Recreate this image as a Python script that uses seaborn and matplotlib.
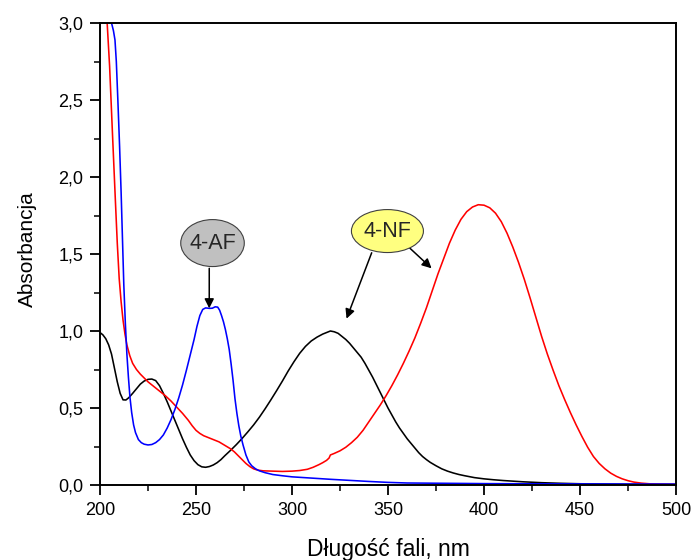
import numpy as np
import pandas as pd
import matplotlib
matplotlib.use("Agg")
import matplotlib.pyplot as plt
from matplotlib.patches import Ellipse
from matplotlib.ticker import MultipleLocator, FixedLocator
import seaborn as sns

# Absorption spectra (wavelength in nm, absorbance)
nf_acid_wl = [200, 201.5, 203, 204.5, 206, 207.5, 209, 210.5, 212, 213.5, 215, 217, 219,
              221, 223, 225, 227, 229, 231, 233, 235, 237, 239, 241, 243, 245, 247, 249,
              251, 253, 255, 257, 259, 261, 263, 265, 268, 271, 274, 277, 280, 283, 286,
              289, 292, 295, 298, 301, 304, 307, 310, 313, 316, 318, 320, 322, 324, 326,
              328, 330, 332, 334, 336, 338, 340, 342, 344, 346, 348, 350, 352, 354, 356,
              358, 360, 362, 364, 366, 368, 370, 372, 375, 378, 381, 384, 387, 390, 395,
              400, 405, 410, 420, 430, 440, 450, 470, 500]
nf_acid_abs = [0.99, 0.975, 0.95, 0.91, 0.85, 0.76, 0.67, 0.595, 0.553, 0.552, 0.567,
               0.595, 0.625, 0.655, 0.675, 0.686, 0.688, 0.678, 0.645, 0.595, 0.54, 0.48,
               0.42, 0.36, 0.30, 0.245, 0.195, 0.158, 0.132, 0.118, 0.115, 0.12, 0.13,
               0.145, 0.165, 0.19, 0.225, 0.262, 0.302, 0.345, 0.39, 0.44, 0.495, 0.553,
               0.613, 0.675, 0.74, 0.80, 0.855, 0.90, 0.935, 0.96, 0.98, 0.99, 1.0, 0.995,
               0.985, 0.965, 0.945, 0.92, 0.89, 0.86, 0.83, 0.79, 0.745, 0.70, 0.65,
               0.60, 0.55, 0.50, 0.455, 0.41, 0.37, 0.335, 0.30, 0.27, 0.24, 0.21, 0.185,
               0.165, 0.147, 0.125, 0.105, 0.09, 0.078, 0.068, 0.06, 0.048, 0.04, 0.034,
               0.029, 0.021, 0.015, 0.011, 0.008, 0.005, 0.003]

nf_base_wl = [203.5, 205, 206.5, 208, 209, 210, 211, 212, 213, 214, 215.5, 217, 219, 221,
              223, 225, 228, 231, 234, 237, 240, 243, 246, 248, 250, 252, 254, 256, 258,
              260, 262, 264, 266, 268, 270, 272, 274, 276, 278, 280, 282, 285, 290, 295,
              300, 304, 308, 311, 314, 316, 318, 319.3, 320, 322, 325, 328, 331, 334, 337,
              340, 343, 346, 349, 352, 355, 358, 361, 364, 367, 370, 373, 376, 379, 382,
              385, 388, 391, 394, 397, 400, 403, 406, 409, 412, 415, 418, 421, 424, 427,
              430, 433, 436, 439, 442, 445, 448, 451, 454, 457, 460, 463, 466, 469, 472,
              475, 478, 482, 486, 490, 500]
nf_base_abs = [3.05, 2.72, 2.28, 1.85, 1.57, 1.34, 1.19, 1.07, 0.98, 0.91, 0.84, 0.79,
               0.75, 0.72, 0.695, 0.67, 0.64, 0.61, 0.58, 0.545, 0.505, 0.465, 0.42,
               0.385, 0.355, 0.335, 0.32, 0.31, 0.30, 0.29, 0.28, 0.265, 0.25, 0.235,
               0.215, 0.19, 0.165, 0.14, 0.12, 0.105, 0.097, 0.092, 0.09, 0.088, 0.09,
               0.094, 0.102, 0.115, 0.132, 0.145, 0.16, 0.175, 0.195, 0.205, 0.222, 0.245,
               0.275, 0.31, 0.355, 0.41, 0.465, 0.52, 0.58, 0.645, 0.715, 0.79, 0.87,
               0.955, 1.05, 1.15, 1.26, 1.37, 1.47, 1.57, 1.655, 1.725, 1.775, 1.805, 1.82,
               1.817, 1.80, 1.765, 1.71, 1.635, 1.545, 1.445, 1.335, 1.215, 1.09, 0.965,
               0.85, 0.745, 0.645, 0.555, 0.47, 0.39, 0.315, 0.245, 0.185, 0.14, 0.105,
               0.077, 0.056, 0.04, 0.028, 0.019, 0.012, 0.008, 0.006, 0.004]

af_wl = [205.2, 206, 207, 207.8, 208.5, 209.3, 210.2, 211, 211.7, 212.4, 213.2, 214,
         214.8, 215.6, 216.5, 217.5, 218.5, 220, 221.5, 223, 225, 227, 229, 231, 233, 235,
         237, 239, 241, 243, 245, 247, 249, 250.5, 252, 253.5, 255, 257, 258.5, 260,
         261.3, 262.3, 263.3, 264.3, 265.3, 266.3, 267.3, 268.3, 269.3, 270.3, 271.3,
         272.3, 273.3, 274.5, 276, 277.5, 279, 281, 283, 286, 290, 295, 300, 310, 320,
         330, 340, 350, 360, 380, 400, 420, 450, 500]
af_abs = [3.05, 3.0, 2.95, 2.89, 2.75, 2.5, 2.2, 1.9, 1.6, 1.3, 1.05, 0.85, 0.7, 0.57,
          0.47, 0.39, 0.34, 0.295, 0.275, 0.265, 0.26, 0.263, 0.275, 0.295, 0.325, 0.37,
          0.425, 0.49, 0.565, 0.65, 0.745, 0.845, 0.945, 1.03, 1.10, 1.14, 1.15, 1.147,
          1.148, 1.157, 1.155, 1.135, 1.10, 1.06, 1.01, 0.95, 0.88, 0.785, 0.68, 0.56,
          0.465, 0.385, 0.32, 0.26, 0.195, 0.15, 0.125, 0.105, 0.092, 0.08, 0.068, 0.06,
          0.053, 0.045, 0.037, 0.03, 0.023, 0.017, 0.013, 0.011, 0.009, 0.008, 0.007,
          0.006]

x_ticks = [200, 250, 300, 350, 400, 450, 500]
y_ticks = [0.0, 0.5, 1.0, 1.5, 2.0, 2.5, 3.0]
y_tick_labels = ["0,0", "0,5", "1,0", "1,5", "2,0", "2,5", "3,0"]

df = pd.concat([
    pd.DataFrame({"wl": nf_acid_wl, "abs": nf_acid_abs, "series": "nf_acid"}),
    pd.DataFrame({"wl": nf_base_wl, "abs": nf_base_abs, "series": "nf_base"}),
    pd.DataFrame({"wl": af_wl, "abs": af_abs, "series": "af"}),
])

sns.set_style("ticks")
plt.rcParams["font.family"] = ["Liberation Sans", "DejaVu Sans"]

fig = plt.figure(figsize=(6.91, 5.6), dpi=100)
ax = fig.add_axes([100 / 691, 1 - 485 / 560, 576 / 691, 462 / 560])

sns.lineplot(data=df, x="wl", y="abs", hue="series", sort=False, estimator=None,
             palette={"nf_acid": "black", "nf_base": "#ff0000", "af": "#0000ff"},
             hue_order=["nf_acid", "nf_base", "af"], linewidth=1.15, legend=False, ax=ax)
for line in ax.get_lines():
    line.set_solid_joinstyle("round")
    line.set_solid_capstyle("round")

ax.set_xlim(200, 500)
ax.set_ylim(0, 3.0)
ax.xaxis.set_major_locator(FixedLocator(x_ticks))
ax.xaxis.set_minor_locator(MultipleLocator(25))
ax.yaxis.set_major_locator(FixedLocator(y_ticks))
ax.yaxis.set_minor_locator(MultipleLocator(0.25))
ax.set_yticklabels(y_tick_labels)
ax.set_xticklabels([str(t) for t in x_ticks])

for side in ["top", "right", "bottom", "left"]:
    ax.spines[side].set_visible(True)
    ax.spines[side].set_linewidth(1.4)
    ax.spines[side].set_color("black")
ax.tick_params(which="major", direction="out", length=7, width=1.3, labelsize=13,
               colors="black", pad=5, top=False, right=False)
ax.tick_params(which="minor", direction="out", length=4, width=1.3, top=False, right=False)

ax.set_xlabel("Długość fali, nm", fontsize=16.5, color="black")
ax.set_ylabel("Absorbancja", fontsize=15, color="black")
ax.xaxis.set_label_coords(0.5, -0.115)
ax.yaxis.set_label_coords(-0.11, 0.51)

# Compound labels with arrows
ax.add_patch(Ellipse((258.6, 1.571), 33.1, 0.305, facecolor="#c0c0c0",
                     edgecolor="#404040", lw=0.8, zorder=5))
ax.text(258.6, 1.571, "4-AF", ha="center", va="center", fontsize=15.5, zorder=6)
ax.add_patch(Ellipse((349.7, 1.649), 37.5, 0.279, facecolor="#ffff80",
                     edgecolor="#404040", lw=0.8, zorder=5))
ax.text(349.7, 1.649, "4-NF", ha="center", va="center", fontsize=15.5, zorder=6)

arrow = dict(arrowstyle="-|>", color="black", lw=1.1, mutation_scale=14,
             shrinkA=0, shrinkB=0)
ax.annotate("", xy=(256.9, 1.147), xytext=(256.9, 1.407), arrowprops=arrow, zorder=4)
ax.annotate("", xy=(328.4, 1.08), xytext=(341.5, 1.508), arrowprops=arrow, zorder=4)
ax.annotate("", xy=(372.7, 1.407), xytext=(360.6, 1.547), arrowprops=arrow, zorder=4)

fig.savefig("out.png", dpi=100)
